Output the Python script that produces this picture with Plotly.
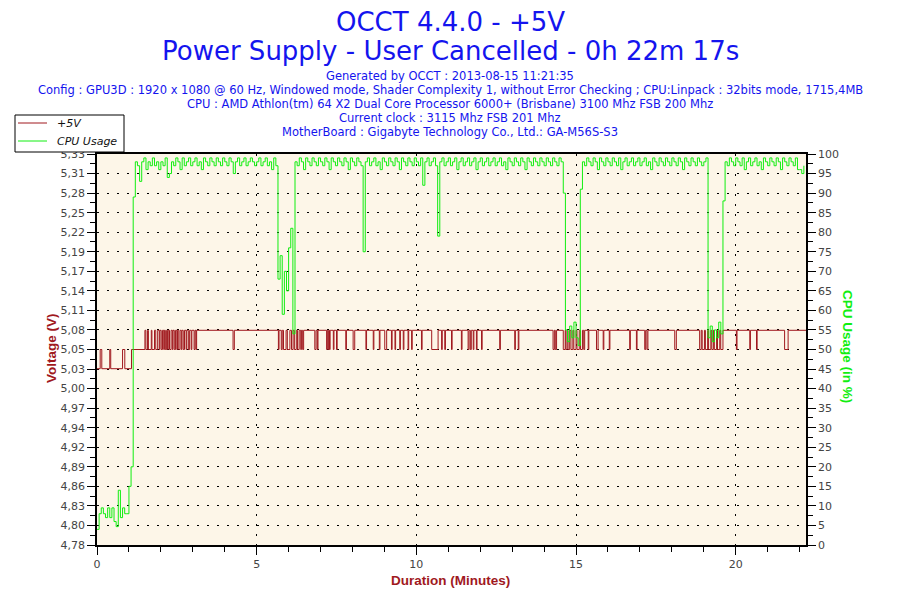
import plotly.graph_objects as go

# OCCT power supply log, +5V rail and CPU load, 0h 22m 17s run
W, H = 900, 600
OFF = 8  # the page body adds an 8px margin around the figure
ML, MR, MT, MB = 97 - OFF, 94 + OFF, 154 - OFF, 55 + OFF

COL_TITLE = "#1414EE"
COL_VOLT = "#A0191E"
COL_CPU = "#11EE11"
COL_BG = "#FDF6E8"
COL_TICK = "#444444"

title_lines = ["OCCT 4.4.0 - +5V", "Power Supply - User Cancelled - 0h 22m 17s"]
info_lines = [
    "Generated by OCCT : 2013-08-15 11:21:35",
    "Config : GPU3D : 1920 x 1080 @ 60 Hz, Windowed mode, Shader Complexity 1, without Error Checking ; CPU:Linpack : 32bits mode, 1715,4MB",
    "CPU : AMD Athlon(tm) 64 X2 Dual Core Processor 6000+ (Brisbane) 3100 Mhz FSB 200 Mhz",
    "Current clock : 3115 Mhz FSB 201 Mhz",
    "MotherBoard : Gigabyte Technology Co., Ltd.: GA-M56S-S3",
]
series_names = ["+5V", "CPU Usage"]

# left axis tick labels (as printed by OCCT), 20 equal steps
volt_labels = ["4,78", "4,80", "4,83", "4,86", "4,89", "4,92", "4,94", "4,97", "5,00", "5,03", "5,05",
               "5,08", "5,11", "5,14", "5,17", "5,19", "5,22", "5,25", "5,28", "5,31", "5,33"]
volt_min, volt_max = 4.779, 5.329
x_ticks = [0, 5, 10, 15, 20]
duration_min = 22.2

# CPU usage (%), one sample every 4 s, one row per minute
sample_min = 4 / 60
cpu_usage = [
    4, 8, 9.5, 8, 7, 9.5, 7, 9.5, 6, 4.7, 14, 7, 9.5, 8, 8,
    15, 20, 89, 98, 97, 93, 98, 99, 96, 98, 97, 99, 97, 98, 96,
    98, 97, 99, 94, 95, 98, 97, 99, 98, 96, 99, 97, 98, 99, 97,
    98, 99, 97, 98, 96, 99, 98, 97, 99, 98, 97, 99, 98, 97, 99,
    98, 97, 99, 98, 95, 98, 99, 97, 98, 99, 97, 98, 99, 98, 97,
    98, 99, 97, 98, 99, 97, 98, 96, 99, 97, 68, 74, 59, 70, 65,
    76, 81, 54, 98, 97, 99, 98, 96, 99, 98, 97, 99, 98, 97, 99,
    98, 97, 99, 98, 96, 99, 98, 97, 99, 98, 97, 99, 98, 96, 99,
    98, 97, 99, 98, 97, 75, 98, 99, 97, 98, 99, 97, 98, 96, 99,
    98, 97, 99, 98, 97, 99, 98, 96, 99, 98, 97, 99, 98, 97, 99,
    98, 97, 99, 92, 98, 99, 97, 98, 99, 97, 79, 98, 99, 97, 98,
    99, 97, 98, 99, 96, 98, 99, 97, 98, 99, 97, 98, 99, 96, 98,
    99, 97, 98, 99, 97, 98, 99, 97, 98, 99, 97, 98, 96, 99, 98,
    97, 99, 98, 97, 99, 98, 96, 99, 98, 97, 99, 98, 97, 99, 98,
    97, 99, 98, 97, 99, 98, 97, 99, 98, 90, 55, 52, 56, 53, 57,
    53, 51, 91, 98, 97, 99, 98, 97, 99, 98, 96, 99, 98, 97, 99,
    98, 97, 99, 98, 97, 99, 96, 98, 99, 97, 98, 99, 97, 98, 99,
    97, 98, 99, 97, 98, 96, 99, 98, 97, 99, 98, 97, 99, 98, 97,
    99, 98, 97, 99, 98, 96, 99, 98, 97, 99, 98, 97, 99, 98, 97,
    98, 99, 53, 56, 52, 55, 53, 57, 54, 88, 98, 97, 99, 98, 97,
    99, 98, 97, 99, 96, 98, 99, 97, 98, 99, 97, 98, 96, 99, 98,
    97, 99, 98, 97, 99, 98, 96, 99, 98, 97, 99, 98, 97, 99, 96,
    96, 95, 97,
]

# +5V readings: change points before the load settles (minutes, volts)
volt_early_t = [0.00, 0.10, 0.15, 0.40, 0.43, 0.80, 0.87, 1.08, 1.50, 1.53, 1.58, 1.61, 1.70, 1.72, 1.80, 1.84, 1.90]
volt_early_v = [5.027, 5.054, 5.027, 5.054, 5.027, 5.054, 5.027, 5.054, 5.081, 5.054, 5.081, 5.054, 5.081, 5.054,
                5.081, 5.054, 5.081]
volt_high, volt_low = 5.081, 5.054
# afterwards the rail sits at 5.081 V with short drops to 5.054 V
dip_start = [1.95, 2.01, 2.09, 2.14, 2.21, 2.27, 2.36, 2.42, 2.50, 2.56, 2.64, 2.70, 2.79, 2.86, 2.95, 3.04, 3.10,
             4.26, 5.68, 5.77, 5.84, 5.96, 6.09, 6.18, 6.28, 6.38, 6.44, 6.82, 6.90, 7.19, 7.24, 7.28,
             7.40, 7.50, 7.79, 8.02, 8.42, 8.65, 8.84, 9.01, 9.22, 9.33, 9.48, 9.59, 9.74, 9.85, 10.16,
             10.48, 10.79, 10.89, 11.10, 11.41, 11.62, 11.69, 11.78, 11.88, 12.04, 12.61, 13.08, 13.19,
             14.28, 14.35, 14.60, 14.68, 14.75, 14.84, 14.93, 15.03, 15.14, 15.24, 15.38, 15.64, 15.85,
             16.04, 16.68, 16.89, 17.15, 17.22, 18.09, 18.87, 18.95, 19.05, 19.15, 19.25, 19.33, 19.43,
             19.53, 20.02, 20.44, 20.65, 21.53]
dip_end = [1.97, 2.05, 2.11, 2.18, 2.23, 2.32, 2.38, 2.46, 2.52, 2.60, 2.66, 2.74, 2.81, 2.90, 2.97, 3.07, 3.12,
           4.30, 5.70, 5.80, 5.92, 6.04, 6.14, 6.24, 6.33, 6.40, 6.47, 6.86, 6.92, 7.21, 7.26, 7.30,
           7.42, 7.52, 7.81, 8.07, 8.44, 8.67, 8.86, 9.07, 9.24, 9.35, 9.50, 9.61, 9.76, 9.87, 10.18,
           10.68, 10.81, 10.91, 11.12, 11.43, 11.65, 11.72, 11.80, 11.90, 12.06, 12.63, 13.10, 13.21,
           14.32, 14.39, 14.66, 14.72, 14.80, 14.90, 15.00, 15.10, 15.20, 15.27, 15.40, 15.69, 15.87,
           16.06, 16.70, 16.91, 17.18, 17.25, 18.14, 18.92, 19.02, 19.12, 19.22, 19.30, 19.40, 19.50,
           19.60, 20.04, 20.46, 20.67, 21.64]

cpu_t = [i * sample_min for i in range(len(cpu_usage))]

volt_t = list(volt_early_t)
volt_v = list(volt_early_v)
for s, e in zip(dip_start, dip_end):
    volt_t += [s, e]
    volt_v += [volt_low, volt_high]
volt_t.append(duration_min)
volt_v.append(volt_high)

step = (volt_max - volt_min) / (len(volt_labels) - 1)
volt_tickvals = [volt_min + i * step for i in range(len(volt_labels))]
volt_minor = [v + step / 2 for v in volt_tickvals[:-1]]


# screen pixel (as seen in the window) -> paper coordinates
def px_x(x):
    return (x - OFF - ML) / (W - ML - MR)


def px_y(y):
    return (H - MB - (y - OFF)) / (H - MT - MB)


fig = go.Figure()
fig.add_trace(go.Scatter(x=volt_t, y=volt_v, name=series_names[0], mode="lines", line_shape="hv",
                         line=dict(color=COL_VOLT, width=1), yaxis="y"))
fig.add_trace(go.Scatter(x=cpu_t, y=cpu_usage, name=series_names[1], mode="lines", line_shape="hv",
                         line=dict(color=COL_CPU, width=1), yaxis="y2"))

grid_dash = "2px,8px"
tick_font = dict(family="DejaVu Sans", size=11, color=COL_TICK)

annotations = []
for txt, y in zip(title_lines, [22, 51]):
    annotations.append(dict(text=txt, x=px_x(450), y=px_y(y), xref="paper", yref="paper",
                            showarrow=False, xanchor="center", yanchor="middle",
                            font=dict(family="DejaVu Sans", size=26, color=COL_TITLE)))
for txt, y in zip(info_lines, [76, 90, 104, 118, 132]):
    annotations.append(dict(text=txt, x=px_x(450), y=px_y(y), xref="paper", yref="paper",
                            showarrow=False, xanchor="center", yanchor="middle",
                            font=dict(family="DejaVu Sans", size=11.5, color=COL_TITLE)))

axis_title_font = dict(family="Liberation Sans Narrow, Liberation Sans, sans-serif", size=13.5, weight="bold")
annotations.append(dict(text="Voltage (V)", x=px_x(51), y=px_y(348), xref="paper", yref="paper",
                        showarrow=False, textangle=-90, xanchor="center", yanchor="middle",
                        font=dict(axis_title_font, color=COL_VOLT)))
annotations.append(dict(text="CPU Usage (in %)", x=px_x(848), y=px_y(347), xref="paper", yref="paper",
                        showarrow=False, textangle=90, xanchor="center", yanchor="middle",
                        font=dict(axis_title_font, color=COL_CPU)))
annotations.append(dict(text="Duration (Minutes)", x=px_x(450), y=px_y(580), xref="paper", yref="paper",
                        showarrow=False, xanchor="center", yanchor="middle",
                        font=dict(axis_title_font, color=COL_VOLT)))

# hand-drawn legend box, as OCCT draws it (top-left, over the axis labels)
shapes = [dict(type="rect", xref="paper", yref="paper", layer="above",
               x0=px_x(15), x1=px_x(124), y0=px_y(115), y1=px_y(152),
               fillcolor="white", line=dict(color="black", width=1))]
for name, col, y in zip(series_names, [COL_VOLT, COL_CPU], [123, 141]):
    shapes.append(dict(type="line", xref="paper", yref="paper", layer="above",
                       x0=px_x(18), x1=px_x(47), y0=px_y(y), y1=px_y(y),
                       line=dict(color=col, width=1)))
    annotations.append(dict(text=name, x=px_x(55), y=px_y(y), xref="paper", yref="paper",
                            showarrow=False, xanchor="left", yanchor="middle",
                            font=dict(family="DejaVu Sans", size=11, color="#111111", style="italic")))

fig.update_layout(
    width=W, height=H,
    margin=dict(l=ML, r=MR, t=MT, b=MB, autoexpand=False),
    paper_bgcolor="white",
    plot_bgcolor=COL_BG,
    annotations=annotations,
    shapes=shapes,
    showlegend=False,
    xaxis=dict(range=[0, duration_min], tickmode="array", tickvals=x_ticks,
               ticks="outside", ticklen=8, tickcolor="black", tickfont=tick_font,
               showline=True, linecolor="black", linewidth=1.5, mirror=True,
               showgrid=True, gridcolor="black", griddash=grid_dash, gridwidth=1,
               zeroline=False,
               minor=dict(dtick=1, ticklen=5, tickcolor="black", ticks="outside", showgrid=False)),
    yaxis=dict(range=[volt_min, volt_max], tickmode="array", tickvals=volt_tickvals, ticktext=volt_labels,
               ticks="outside", ticklen=8, tickcolor="black", tickfont=tick_font,
               showline=True, linecolor="black", linewidth=1.5,
               showgrid=True, gridcolor="black", griddash=grid_dash, gridwidth=1,
               zeroline=False,
               minor=dict(tickvals=volt_minor, ticklen=5, tickcolor="black", ticks="outside", showgrid=False)),
    yaxis2=dict(range=[0, 100], overlaying="y", side="right", tickmode="linear", tick0=0, dtick=5,
                ticks="outside", ticklen=8, tickcolor="black", tickfont=tick_font,
                showline=True, linecolor="black", linewidth=1.5,
                showgrid=False, zeroline=False,
                minor=dict(dtick=2.5, ticklen=5, tickcolor="black", ticks="outside", showgrid=False)),
)

fig.write_html("out.html")
